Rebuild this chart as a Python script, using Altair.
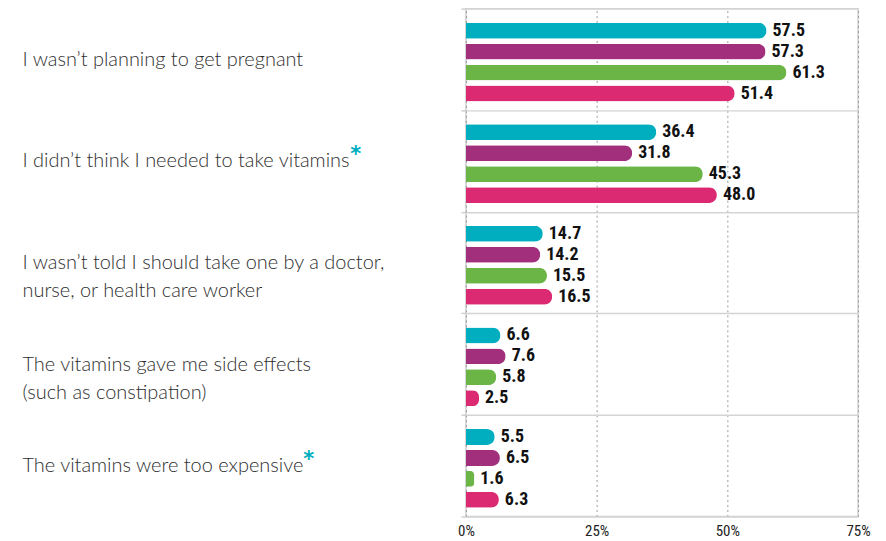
import altair as alt
import pandas as pd

categories = [
    "I wasn’t planning to get pregnant",
    "I didn’t think I needed to take vitamins",
    "I wasn’t told I should take one by a doctor,|nurse, or health care worker",
    "The vitamins gave me side effects|(such as constipation)",
    "The vitamins were too expensive",
]
series = ["Group 1", "Group 2", "Group 3", "Group 4"]
series_colors = ["#00AEC0", "#A22F7C", "#6AB546", "#DC2A72"]

group1_vals = [57.5, 36.4, 14.7, 6.6, 5.5]
group2_vals = [57.3, 31.8, 14.2, 7.6, 6.5]
group3_vals = [61.3, 45.3, 15.5, 5.8, 1.6]
group4_vals = [51.4, 48.0, 16.5, 2.5, 6.3]

x_ticks = [0, 25, 50, 75]

rows = []
for s, vals in zip(series, [group1_vals, group2_vals, group3_vals, group4_vals]):
    for c, v in zip(categories, vals):
        rows.append({"cat": c, "series": s, "value": v})
df = pd.DataFrame(rows)

LABEL_FONT = "Lato"
NUM_FONT = "Roboto Condensed, Roboto, sans-serif"

y_enc = alt.Y(
    "cat:N",
    sort=categories,
    scale=alt.Scale(paddingInner=0, paddingOuter=0),
    axis=alt.Axis(
        title=None,
        labelExpr="split(datum.label, '|')",
        labelAlign="left",
        labelBaseline="middle",
        labelPadding=440,
        labelFont=LABEL_FONT,
        labelFontSize=20,
        labelFontWeight=300,
        labelColor="#2e2e2e",
        labelLineHeight=28,
        labelLimit=0,
        tickBand="extent",
        tickSize=5,
        tickColor="#cfcfcf",
        tickWidth=1.5,
        grid=True,
        gridColor="#d4d4d4",
        gridWidth=1.5,
        domain=False,
    ),
)

x_enc = alt.X(
    "value:Q",
    scale=alt.Scale(domain=[0, 75], nice=False),
    axis=alt.Axis(
        title=None,
        values=x_ticks,
        labelExpr="datum.value + '%'",
        labelFlush=False,
        labelFont=NUM_FONT,
        labelFontSize=15,
        labelColor="#222222",
        labelPadding=7,
        grid=True,
        gridDash=[2, 3],
        gridColor="#9a9a9a",
        gridWidth=1,
        domain=False,
        ticks=False,
    ),
)

yoff = alt.YOffset(
    "series:N",
    sort=series,
    scale=alt.Scale(paddingInner=0.24, paddingOuter=0.545, align=0.62),
)
color = alt.Color(
    "series:N",
    sort=series,
    scale=alt.Scale(domain=series, range=series_colors),
    legend=None,
)

bars = alt.Chart(df).mark_bar(cornerRadiusEnd=8).encode(
    y=y_enc, yOffset=yoff, x=x_enc, color=color
)

labels = alt.Chart(df).mark_text(
    align="left", baseline="middle", dx=6, font=NUM_FONT, fontSize=18,
    fontWeight="bold", color="#111111"
).encode(
    y=alt.Y("cat:N", sort=categories),
    yOffset=yoff,
    x=alt.X("value:Q"),
    text=alt.Text("value:Q", format=".1f"),
)

star_df = pd.DataFrame({"cat": [categories[1], categories[4]], "mark": ["*", "*"]})

star1 = alt.Chart(star_df).transform_filter(
    alt.datum.cat == categories[1]
).mark_text(
    align="left", baseline="middle", dy=-6, fontSize=21, fontWeight="bold",
    font="DejaVu Sans", color="#00AEC0"
).encode(
    y=alt.Y("cat:N", sort=categories),
    x=alt.value(-116),
    text="mark:N",
)

star2 = alt.Chart(star_df).transform_filter(
    alt.datum.cat == categories[4]
).mark_text(
    align="left", baseline="middle", dy=-6, fontSize=21, fontWeight="bold",
    font="DejaVu Sans", color="#00AEC0"
).encode(
    y=alt.Y("cat:N", sort=categories),
    x=alt.value(-163),
    text="mark:N",
)

chart = alt.layer(bars, labels, star1, star2).properties(
    width=393,
    height=509,
    autosize=alt.AutoSizeParams(type="none"),
    padding={"left": 459, "top": 0, "right": 20, "bottom": 24},
).configure_view(
    stroke="#cfcfcf", strokeWidth=1.5
)

chart.save("out.html", embed_options={"renderer": "svg", "actions": False})
